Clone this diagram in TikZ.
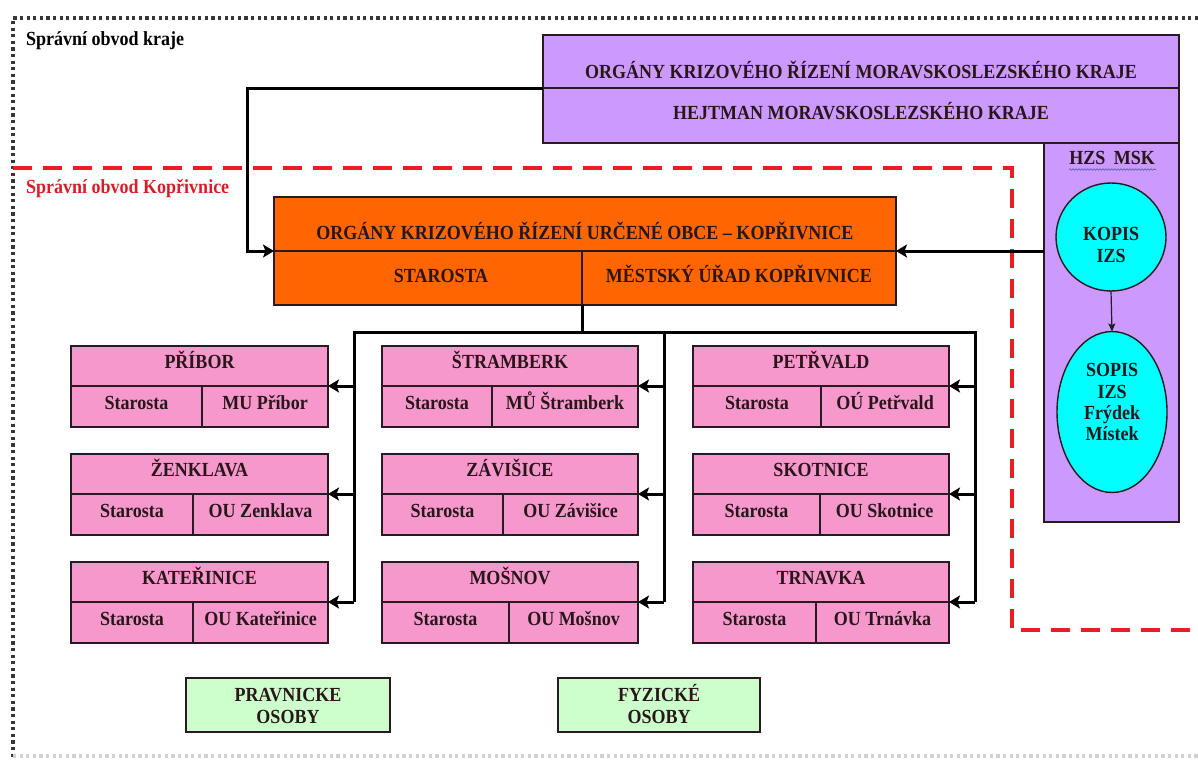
\documentclass[tikz,border=0pt]{standalone}
\usepackage{fontspec}
\setmainfont{Liberation Serif}[FakeStretch=0.9]
\usetikzlibrary{arrows.meta,shapes.geometric,decorations.pathmorphing,calc}
\definecolor{pinkf}{RGB}{246,152,204}
\definecolor{orangef}{RGB}{255,102,0}
\definecolor{purplef}{RGB}{204,153,255}
\definecolor{cyanf}{RGB}{0,255,255}
\definecolor{greenf}{RGB}{204,255,204}
\definecolor{bd}{RGB}{40,25,35}
\definecolor{txt}{RGB}{40,22,26}
\definecolor{redd}{RGB}{236,28,36}
\definecolor{redt}{RGB}{215,30,40}
\definecolor{dotc}{RGB}{55,55,55}
\tikzset{
  bx/.style={draw=bd, line width=1.4pt, inner sep=0pt, outer sep=0pt, anchor=north west},
  sepl/.style={draw=bd, line width=1.4pt},
  lbl/.style={font=\fontsize{20}{22}\selectfont\bfseries, text=txt, inner sep=0pt, anchor=base},
  conn/.style={draw=black, line width=3pt, -{Stealth[length=11pt,width=13pt,inset=2.5pt]}},
  wire/.style={draw=black, line width=3pt},
  thinconn/.style={draw=bd, line width=1.2pt, -{Stealth[length=8pt,width=7pt,inset=1.5pt]}},
  pbox/.style={bx, fill=pinkf},
  gbox/.style={bx, fill=greenf},
  ell/.style={ellipse, draw=bd, line width=1.4pt, fill=cyanf, inner sep=0pt, outer sep=0pt},
  dotframe/.style={draw=dotc, line width=3.2pt, dash pattern=on 3.2pt off 3.4pt},
  redframe/.style={draw=redd, line width=4pt, dash pattern=on 19pt off 11pt},
}
\newcommand\town[7]{%
  \node[pbox, minimum width=#4, minimum height=81] (#1) at (#2,#3) {};
  \coordinate (#1-d) at (#2+#4,#3+40);
  \draw[sepl] (#2,#3+40) -- (#1-d);
  \draw[sepl] (#5,#3+40) -- (#5,#3+81);
  \node[lbl] (#1-t) at ({#2+#4/2},#3+22.5) {#6};
  \node[lbl] (#1-s) at ({(#2+#5)/2},#3+63) {Starosta};
  \node[lbl] (#1-o) at ({(#5+#2+#4)/2},#3+63) {#7};
}
\begin{document}
\begin{tikzpicture}[x=1pt,y=-1pt]
\useasboundingbox (0,0) rectangle (1198,760);
% outer dotted frame
\draw[dotframe] (1198,18) -- (13,18) -- (13,757);
\draw[dotframe, draw=black!18] (13,756) -- (1198,756);
\node[lbl, anchor=base west, text=black] (krajlbl) at (26,45.5) {Správní obvod kraje};
% red dashed frame
\draw[redframe] (13,168) -- (1012,168) -- (1012,630) -- (1198,630);
\node[lbl, anchor=base west, text=redt] (koplbl) at (26,193.5) {Správní obvod Kopřivnice};

% regional box
\node[bx, fill=purplef, minimum width=636, minimum height=108] (kraj) at (543,35) {};
\draw[sepl] (543,88) -- (1179,88);
\coordinate (kraj-d) at (543,88);
\node[lbl] (kraj-t) at (861,78.5) {ORGÁNY KRIZOVÉHO ŘÍZENÍ MORAVSKOSLEZSKÉHO KRAJE};
\node[lbl] (hejtman) at (861,119.5) {HEJTMAN MORAVSKOSLEZSKÉHO KRAJE};
% HZS column
\node[bx, fill=purplef, minimum width=135, minimum height=379] (hzs) at (1044,143) {};
\node[lbl] (hzs-t) at (1112,164.5) {HZS\hspace{4pt} MSK};
\draw[gray!70!blue, line width=0.6pt, decorate, decoration={snake, amplitude=0.8pt, segment length=3pt}] (1069,169.5) -- (1156,169.5);
\coordinate (hzs-d) at (1044,251);
\node[ell, minimum width=110, minimum height=108] (kopis) at (1111,237) {};
\node[lbl] (kopis-1) at (1111,240.5) {KOPIS};
\node[lbl] (kopis-2) at (1111,262.5) {IZS};
\node[ell, minimum width=110, minimum height=161] (sopis) at (1112,412) {};
\node[lbl] (sopis-1) at (1112,376.5) {SOPIS};
\node[lbl] (sopis-2) at (1112,398.5) {IZS};
\node[lbl] (sopis-3) at (1112,419.5) {Frýdek};
\node[lbl] (sopis-4) at (1112,440.5) {Místek};
\draw[thinconn] (kopis.south) -- (sopis.north);

% municipality box
\node[bx, fill=orangef, minimum width=622, minimum height=108] (ork) at (274,197) {};
\draw[sepl] (274,251) -- (896,251);
\draw[sepl] (582,251) -- (582,305);
\coordinate (ork-w) at (274,251);
\coordinate (ork-e) at (896,251);
\coordinate (ork-v) at (582,305);
\node[lbl] (ork-t) at (585,239.5) {ORGÁNY KRIZOVÉHO ŘÍZENÍ URČENÉ OBCE – KOPŘIVNICE};
\node[lbl] (ork-s) at (441,282.5) {STAROSTA};
\node[lbl] (ork-m) at (739,282.5) {MĚSTSKÝ ÚŘAD KOPŘIVNICE};

\draw[conn] (kraj-d) -- (247,88) |- (ork-w);
\draw[conn] (hzs-d) -- (ork-e);

% towns
\town{pribor}{71}{346}{257}{202}{PŘÍBOR}{MU Příbor}
\town{zenklava}{71}{454}{257}{193}{ŽENKLAVA}{OU Zenklava}
\town{katerinice}{71}{562}{257}{193}{KATEŘINICE}{OU Kateřinice}
\town{stramberk}{382}{346}{256}{492}{ŠTRAMBERK}{MŮ Štramberk}
\town{zavisice}{382}{454}{256}{503}{ZÁVIŠICE}{OU Závišice}
\town{mosnov}{382}{562}{256}{509}{MOŠNOV}{OU Mošnov}
\town{petrvald}{693}{346}{256}{821}{PETŘVALD}{OÚ Petřvald}
\town{skotnice}{693}{454}{256}{820}{SKOTNICE}{OU Skotnice}
\town{trnavka}{693}{562}{256}{816}{TRNAVKA}{OU Trnávka}

% bus
\coordinate (bus1) at (354,332);
\coordinate (bus2) at (664,332);
\coordinate (bus3) at (975,332);
\draw[wire] (ork-v) -- (ork-v |- bus1);
\draw[wire] (bus1 |- katerinice-d) -- (bus1) -- (bus3) -- (bus3 |- trnavka-d);
\draw[wire] (bus2) -- (bus2 |- mosnov-d);
\foreach \t in {pribor,zenklava,katerinice} \draw[conn] (bus1 |- \t-d) -- (\t-d);
\foreach \t in {stramberk,zavisice,mosnov} \draw[conn] (bus2 |- \t-d) -- (\t-d);
\foreach \t in {petrvald,skotnice,trnavka} \draw[conn] (bus3 |- \t-d) -- (\t-d);

% persons
\node[gbox, minimum width=204, minimum height=54] (prav) at (186,678) {};
\node[lbl] (prav-1) at (288,701.5) {PRAVNICKE};
\node[lbl] (prav-2) at (288,723.5) {OSOBY};
\node[gbox, minimum width=202, minimum height=54] (fyz) at (558,678) {};
\node[lbl] (fyz-1) at (659,701.5) {FYZICKÉ};
\node[lbl] (fyz-2) at (659,723.5) {OSOBY};
\end{tikzpicture}
\end{document}
